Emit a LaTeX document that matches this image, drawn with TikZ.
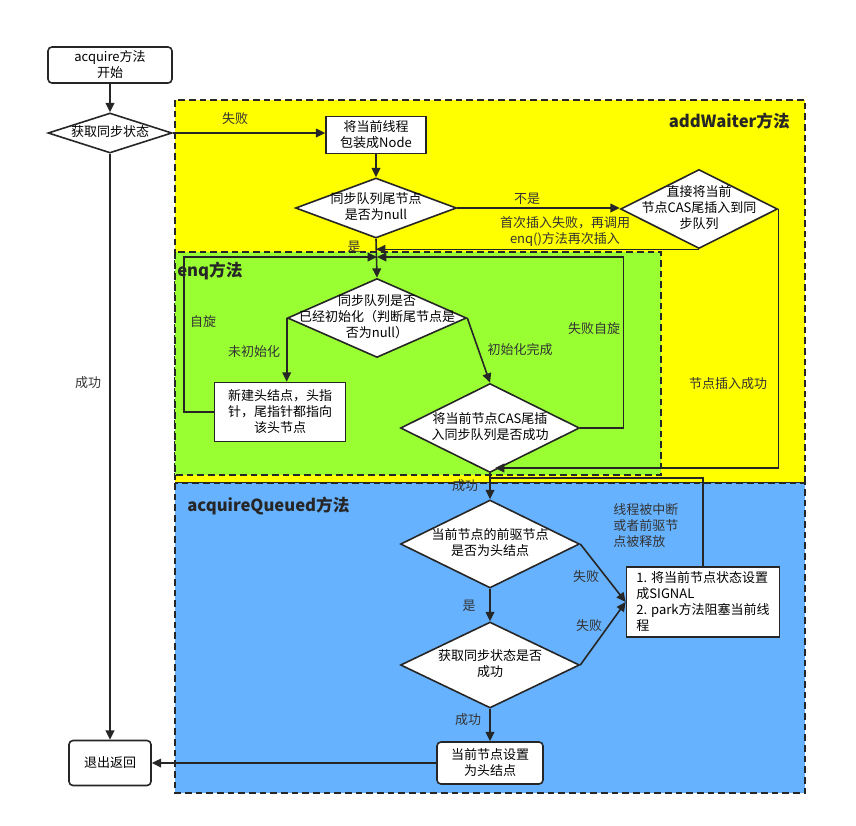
\documentclass[tikz,border=0pt]{standalone}
\usepackage{fontspec}
\setmainfont{Noto Sans CJK SC}
\usepackage{xcolor}
\usepackage{tikz}
\usetikzlibrary{positioning}
\usetikzlibrary{arrows.meta,shapes.geometric}
\usetikzlibrary{calc}

\definecolor{waiteryellow}{RGB}{255,255,0}
\definecolor{enqgreen}{RGB}{153,255,51}
\definecolor{queuedblue}{RGB}{102,178,255}
\definecolor{linegray}{RGB}{38,38,38}

\newcommand{\chartfont}{\fontsize{9.75}{12}\selectfont}
\newcommand{\titlefont}{\fontsize{12.5}{14}\selectfont\bfseries}
% text of a diamond, kept out of the shape size
\newcommand{\dtext}[1]{\makebox[0pt]{\raisebox{\dimexpr(\depth-\height)/2\relax}[0pt][0pt]{\begin{tabular}[b]{@{}c@{}}#1\end{tabular}}}}

\tikzstyle{decision}=[diamond,draw=linegray,fill=white,line width=1.2pt,inner sep=0pt,font=\chartfont]
\tikzstyle{block}=[rectangle,draw=linegray,fill=white,line width=1.2pt,align=center,font=\chartfont,inner sep=3pt]
\tikzstyle{terminal}=[block,rounded corners=3pt]
\tikzstyle{edge} = [draw=linegray,line width=1.2pt,-{Triangle[length=7pt,width=6.5pt]}]
\tikzstyle{plainedge} = [draw=linegray,line width=1.2pt]
\tikzstyle{weight} = [font=\chartfont,text=black!80,inner sep=0pt]
\tikzstyle{region} = [draw=linegray,line width=1.1pt,dash pattern=on 5pt off 3pt]
\tikzstyle{regiontitle} = [font=\titlefont,text=black!85,inner sep=0pt]

\begin{document}
\begin{tikzpicture}[x=0.75pt,y=-0.75pt]

  \def\px{0.75pt};
  \useasboundingbox (0,0) rectangle (856,825);

  % method regions
  \path[region, fill=waiteryellow] (175,100) rectangle (805,483);
  \path[region, fill=queuedblue] (175,483) rectangle (805,793);
  \path[region, fill=enqgreen] (175,252) rectangle (661,475);

  \node[regiontitle, anchor=east] (waitertitle) at (790,121) {addWaiter方法};
  \node[regiontitle, anchor=west] (enqtitle) at (177,271) {enq方法};
  \node[regiontitle, anchor=west] (queuedtitle) at (187,506) {acquireQueued方法};

  \foreach \x/\y/\name/\w/\h/\txt in {110/65/start/124/36/{acquire方法\\开始}, 110/763/exit/82/45/{退出返回}, 490/763/sethead/106/42/{当前节点设置\\为头结点}}
          \node[terminal, minimum width=\w*\px, minimum height=\h*\px] (\name) at (\x,\y) {\txt};

  \foreach \x/\y/\name/\w/\h/\txt in {376/135/wrap/100/37/{将当前线程\\包装成Node}, 280/412/newhead/131/59/{新建头结点，头指\\针，尾指针都指向\\该头节点}}
          \node[block, minimum width=\w*\px, minimum height=\h*\px] (\name) at (\x,\y) {\txt};

  \node[block, align=left, minimum width=153*\px, minimum height=70*\px] (park) at (703,602) {1. 将当前节点状态设置\\成SIGNAL\\2. park方法阻塞当前线\\程};

  \foreach \x/\y/\name/\w/\h/\txt in {110/133/d1/124/40/{获取同步状态}, 376/208/d2/161/60/{同步队列尾节点\\是否为null}, 699/209/d3/157/79/{直接将当前\\节点CAS尾插入到同\\步队列}, 377/318/d4/179/79/{同步队列是否\\已经初始化（判断尾节点是\\否为null）}}
          \node[decision, minimum width=\w*\px, minimum height=\h*\px] (\name) at (\x,\y) {\dtext{\txt}};

  \foreach \x/\y/\name/\w/\h/\txt in {490/428/d5/179/89/{将当前节点CAS尾插\\入同步队列是否成功}, 490/544/d6/179/88/{当前节点的前驱节点\\是否为头结点}, 490/665/d7/179/86/{获取同步状态是否\\成功}}
          \node[decision, minimum width=\w*\px, minimum height=\h*\px] (\name) at (\x,\y) {\dtext{\txt}};

  \coordinate (m) at (377,257);
  \coordinate (c1) at (777,468);
  \coordinate (c2) at (495,468);
  \coordinate (c3) at (490,478);

  \foreach \source/ \dest in {start/d1, d1/exit, wrap/d2, d2/d4, d5/d6, d6/d7, d7/sethead}
         \path[edge] (\source.south) -- (\dest.north);

  \path[edge] (d1.east) -- (wrap.west |- d1.east);
  \path[edge] (d2.east) -- (d3.west |- d2.east);
  \path[edge] (d3.south) -- (d3.south -| d2.south);
  \path[edge] (d3.east) -- (d3.east |- c1) -- (c2);
  \path[edge] (d4.west) -- (d4.west |- newhead.north);
  \path[edge] (d4.east) -- (d5.north);
  \path[edge] (newhead.west) -- ++(-30,0) |- (m);
  \path[edge] (d5.east) -- ++(43,0) |- (m);
  \path[edge] (d6.east) -- (park.west);
  \path[edge] (d7.east) -- (park.west);
  \path[plainedge] (park.north) |- (c3);
  \path[edge] (sethead.west) -- (exit.east);

  \foreach \x/\y/\name/\label in {235/119/l1/失败, 88/383/l2/成功, 527/199/l3/不是, 354/247/l4/是, 728/384/l5/节点插入成功, 203/322/l6/自旋, 254/352/l7/未初始化}
          \node[weight] (\name) at (\x,\y) {\label};

  \foreach \x/\y/\name/\label in {520/350/l8/初始化完成, 594/329/l9/失败自旋, 465/486/l10/成功, 586/577/l11/失败, 469/606/l12/是, 589/626/l13/失败, 468/720/l14/成功}
          \node[weight] (\name) at (\x,\y) {\label};

  \node[weight, align=center] (l15) at (565,231) {首次插入失败，再调用\\enq()方法再次插入};
  \node[weight, align=left, anchor=west] (l16) at (613,526) {线程被中断\\或者前驱节\\点被释放};

\end{tikzpicture}
\end{document}
